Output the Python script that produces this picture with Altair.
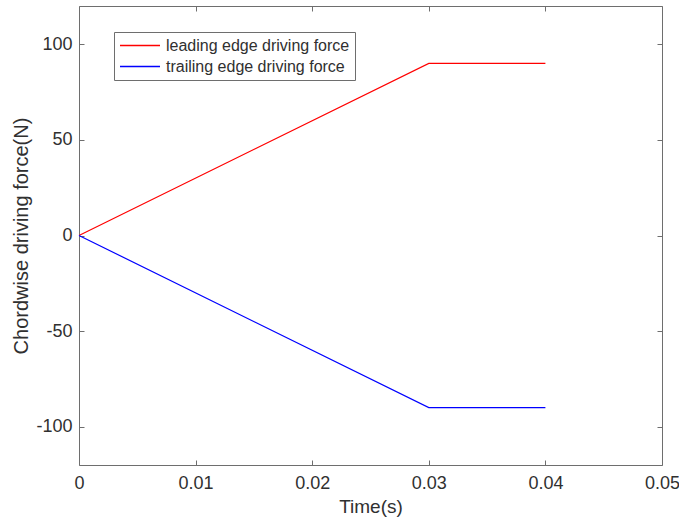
import altair as alt
import pandas as pd

time_s = [0.0, 0.03, 0.04]
leading = [0.0, 90.0, 90.0]
trailing = [0.0, -90.0, -90.0]
series_names = ["leading edge driving force", "trailing edge driving force"]
x_ticks = [0, 0.01, 0.02, 0.03, 0.04, 0.05]
y_ticks = [-100, -50, 0, 50, 100]

rows = []
for name, vals in zip(series_names, [leading, trailing]):
    for t, v in zip(time_s, vals):
        rows.append({"t": t, "f": v, "s": name})
df = pd.DataFrame(rows)

FONT = "Liberation Sans"
AX = "#6e6e6e"
TXT = "#303030"

xs = alt.Scale(domain=[0, 0.05], nice=False, zero=False)
ys = alt.Scale(domain=[-120, 120], nice=False, zero=False)

base_axis = dict(domain=False, grid=False, tickSize=5, offset=-5, tickColor=AX,
                 labelFont=FONT, labelColor=TXT, labelFontSize=18,
                 titleFont=FONT, titleColor=TXT, titleFontWeight="normal")

lines = alt.Chart(df).mark_line(strokeWidth=1.2).encode(
    x=alt.X("t:Q", scale=xs, title="Time(s)",
            axis=alt.Axis(values=x_ticks, orient="bottom", labelPadding=9, titlePadding=5,
                          titleFontSize=19, labelFlush=False,
                          labelExpr="datum.value == 0 ? '0' : format(datum.value, '.2f')",
                          **base_axis)),
    y=alt.Y("f:Q", scale=ys, title="Chordwise driving force(N)",
            axis=alt.Axis(values=y_ticks, orient="left", labelPadding=7, titlePadding=4,
                          titleFontSize=20, labelFlush=False,
                          labelExpr="'' + datum.value",
                          **base_axis)),
    color=alt.Color("s:N", scale=alt.Scale(domain=series_names, range=["#ff0000", "#0000ff"]),
                    legend=alt.Legend(title=None, orient="none", legendX=35, legendY=26,
                                      direction="vertical",
                                      strokeColor=AX, fillColor="white", padding=5,
                                      symbolType="stroke", symbolSize=1600, symbolStrokeWidth=1.4,
                                      clipHeight=17, rowPadding=4, labelLimit=0,
                                      labelFont=FONT, labelFontSize=16, labelColor=TXT,
                                      labelOffset=5)),
)

frame_axes = alt.Chart(df).mark_line(opacity=0).encode(
    x=alt.X("t:Q", scale=xs, title=None,
            axis=alt.Axis(values=x_ticks, orient="top", labels=False, domain=False, grid=False,
                          tickSize=5, offset=-5, tickColor=AX)),
    y=alt.Y("f:Q", scale=ys, title=None,
            axis=alt.Axis(values=y_ticks, orient="right", labels=False, domain=False, grid=False,
                          tickSize=5, offset=-5, tickColor=AX)),
    detail="s:N",
)

chart = alt.layer(lines, frame_axes).resolve_axis(x="independent", y="independent").properties(
    width=583, height=459,
    padding={"left": 79, "top": 6, "right": 17, "bottom": 60},
    autosize=alt.AutoSizeParams(type="none"),
    background="white",
).configure_view(stroke=AX, strokeWidth=1)

chart.save("out.html", embed_options={"renderer": "svg", "actions": False})
